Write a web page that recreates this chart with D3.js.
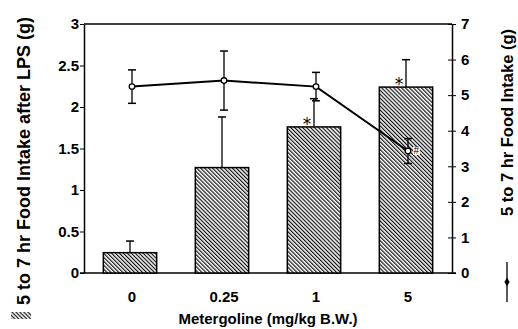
<!DOCTYPE html>
<html>
<head>
	<meta charset="utf-8">
	<title>Metergoline food intake</title>
	<style>
		html, body { margin: 0; background: white; }
		svg { display: block; font-family: "Liberation Sans", Arial, sans-serif; font-weight: bold; }
	</style>
	<script src="https://cdn.jsdelivr.net/npm/d3@7/dist/d3.min.js"></script>
</head>
<body>
	<svg id="svg" width="518" height="329"></svg>
	<script>
		// data
		const doses = ['0', '0.25', '1', '5'];
		const barMeans = [0.245, 1.27, 1.76, 2.24];     // left axis, 5-7 hr intake after LPS
		const barErr = [0.14, 0.61, 0.34, 0.33];
		const barStars = ['', '', '*', '*'];
		const lineMeans = [5.24, 5.41, 5.24, 3.43];     // right axis, 5-7 hr intake
		const lineErr = [0.47, 0.83, 0.40, 0.35];
		const lineMarks = ['', '', '', '#'];
		const leftTicks = [0, 0.5, 1, 1.5, 2, 2.5, 3];
		const rightTicks = [0, 1, 2, 3, 4, 5, 6, 7];

		const svg = d3.select('#svg');
		const x0 = 84, x1 = 452, yTop = 24, yBot = 273;

		// hatch for bars
		const pat = svg.append('defs').append('pattern')
			.attr('id', 'hatch')
			.attr('patternUnits', 'userSpaceOnUse')
			.attr('width', 2.8)
			.attr('height', 10)
			.attr('patternTransform', 'rotate(-45)');
		pat.append('rect').attr('width', 2.8).attr('height', 10).attr('fill', 'white');
		pat.append('rect').attr('width', 1.2).attr('height', 10).attr('fill', '#111');

		const x = d3.scaleBand().domain(doses).range([x0, x1]).paddingInner(0.42).paddingOuter(0.21);
		const yL = d3.scaleLinear().domain([0, 3]).range([yBot, yTop]);
		const yR = d3.scaleLinear().domain([0, 7]).range([yBot, yTop]);

		// frame top
		svg.append('line').attr('x1', x0).attr('x2', x1).attr('y1', yTop).attr('y2', yTop)
			.attr('stroke', 'black').attr('stroke-width', 1.5);

		// left axis
		const gl = svg.append('g').attr('transform', `translate(${x0},0)`)
			.call(d3.axisLeft(yL).tickValues(leftTicks).tickSize(4).tickSizeOuter(0).tickFormat(d3.format('')));
		gl.selectAll('text').attr('font-size', 15).attr('font-weight', 'bold')
			.attr('font-family', 'Liberation Sans, Arial').attr('fill', 'black').attr('dx', 2);

		// right axis
		const gr = svg.append('g').attr('transform', `translate(${x1},0)`)
			.call(d3.axisRight(yR).tickValues(rightTicks).tickSize(4).tickSizeOuter(0).tickFormat(d3.format('d')));
		gr.selectAll('.tick line').attr('x1', -4);
		gr.selectAll('text').attr('font-size', 15).attr('font-weight', 'bold')
			.attr('font-family', 'Liberation Sans, Arial').attr('fill', 'black').attr('x', 9);
		svg.selectAll('.domain').attr('stroke-width', 1.5);

		// bottom axis
		svg.append('line').attr('x1', x0 - 4).attr('x2', x1 + 4).attr('y1', yBot).attr('y2', yBot)
			.attr('stroke', 'black').attr('stroke-width', 1.5);
		svg.append('g').selectAll('text').data(doses).join('text')
			.attr('x', d => x(d) + x.bandwidth() / 2 + 2)
			.attr('y', 302)
			.attr('text-anchor', 'middle')
			.attr('font-size', 15)
			.text(d => d);

		// bars
		const bars = svg.append('g');
		bars.selectAll('line.err').data(doses).join('line')
			.attr('class', 'err')
			.attr('x1', d => x(d) + x.bandwidth() / 2).attr('x2', d => x(d) + x.bandwidth() / 2)
			.attr('y1', (d, i) => yL(barMeans[i])).attr('y2', (d, i) => yL(barMeans[i] + barErr[i]))
			.attr('stroke', 'black').attr('stroke-width', 1.3);
		bars.selectAll('line.cap').data(doses).join('line')
			.attr('class', 'cap')
			.attr('x1', d => x(d) + x.bandwidth() / 2 - 4).attr('x2', d => x(d) + x.bandwidth() / 2 + 4)
			.attr('y1', (d, i) => yL(barMeans[i] + barErr[i])).attr('y2', (d, i) => yL(barMeans[i] + barErr[i]))
			.attr('stroke', 'black').attr('stroke-width', 1.5);
		bars.selectAll('rect').data(doses).join('rect')
			.attr('x', d => x(d))
			.attr('width', x.bandwidth())
			.attr('y', (d, i) => yL(barMeans[i]))
			.attr('height', (d, i) => yBot - yL(barMeans[i]))
			.attr('fill', 'url(#hatch)')
			.attr('stroke', 'black').attr('stroke-width', 1.5);
		bars.append('g').selectAll('text').data(doses).join('text')
			.attr('x', d => x(d) + x.bandwidth() / 2 - 7)
			.attr('y', (d, i) => yL(barMeans[i]) + 3)
			.attr('text-anchor', 'middle')
			.attr('font-size', 17).attr('font-weight', 'normal')
			.attr('font-family', 'DejaVu Sans')
			.style('fill', '#000')
			.text((d, i) => barStars[i]);

		// line series
		const cx = d => x(d) + x.bandwidth() / 2 + 2;
		const ln = svg.append('g');
		ln.selectAll('line.err').data(doses).join('line')
			.attr('class', 'err')
			.attr('x1', cx).attr('x2', cx)
			.attr('y1', (d, i) => yR(lineMeans[i] - lineErr[i])).attr('y2', (d, i) => yR(lineMeans[i] + lineErr[i]))
			.attr('stroke', 'black').attr('stroke-width', 1.3);
		[1, -1].forEach(s => {
			ln.selectAll('line.cap' + (s > 0 ? 'a' : 'b')).data(doses).join('line')
				.attr('class', 'cap' + (s > 0 ? 'a' : 'b'))
				.attr('x1', d => cx(d) - 4).attr('x2', d => cx(d) + 4)
				.attr('y1', (d, i) => yR(lineMeans[i] + s * lineErr[i]))
				.attr('y2', (d, i) => yR(lineMeans[i] + s * lineErr[i]))
				.attr('stroke', 'black').attr('stroke-width', 1.5);
		});
		ln.append('path')
			.datum(doses)
			.attr('d', d3.line().x(cx).y((d, i) => yR(lineMeans[i])))
			.attr('fill', 'none').attr('stroke', 'black').attr('stroke-width', 2);
		ln.selectAll('circle').data(doses).join('circle')
			.attr('cx', cx).attr('cy', (d, i) => yR(lineMeans[i])).attr('r', 2.8)
			.attr('fill', 'white').attr('stroke', 'black').attr('stroke-width', 1.3);
		const marks = ln.selectAll('g.mark').data(doses.filter((d, i) => lineMarks[i]))
			.join('g').attr('class', 'mark')
			.attr('transform', d => `translate(${cx(d) + 5},${yR(lineMeans[doses.indexOf(d)])})`);
		marks.append('rect').attr('x', 0).attr('y', -4).attr('width', 7).attr('height', 8).attr('fill', 'white');
		marks.append('text')
			.attr('x', 0.5).attr('y', 3.5)
			.attr('font-size', 10).attr('font-weight', 'normal')
			.style('fill', '#000')
			.text(d => lineMarks[doses.indexOf(d)]);

		// titles
		svg.append('text')
			.attr('transform', 'translate(30,305) rotate(-90)')
			.attr('font-size', 18)
			.text('5 to 7 hr Food Intake after LPS (g)');
		svg.append('text')
			.attr('transform', 'translate(513,29) rotate(-90)')
			.attr('text-anchor', 'end')
			.attr('font-size', 16.5)
			.text('5 to 7 hr Food Intake (g)');
		svg.append('text')
			.attr('x', 268).attr('y', 324)
			.attr('text-anchor', 'middle')
			.attr('font-size', 15)
			.text('Metergoline (mg/kg B.W.)');

		// legend keys
		svg.append('rect').attr('x', 11).attr('y', 312).attr('width', 20).attr('height', 7)
			.attr('fill', 'url(#hatch)');
		svg.append('line').attr('x1', 507).attr('x2', 507).attr('y1', 262).attr('y2', 302)
			.attr('stroke', 'black').attr('stroke-width', 1.3);
		svg.append('path')
			.attr('d', d3.symbol(d3.symbolDiamond, 24)())
			.attr('transform', 'translate(507,282)')
			.attr('fill', 'black');
	</script>
</body>
</html>
